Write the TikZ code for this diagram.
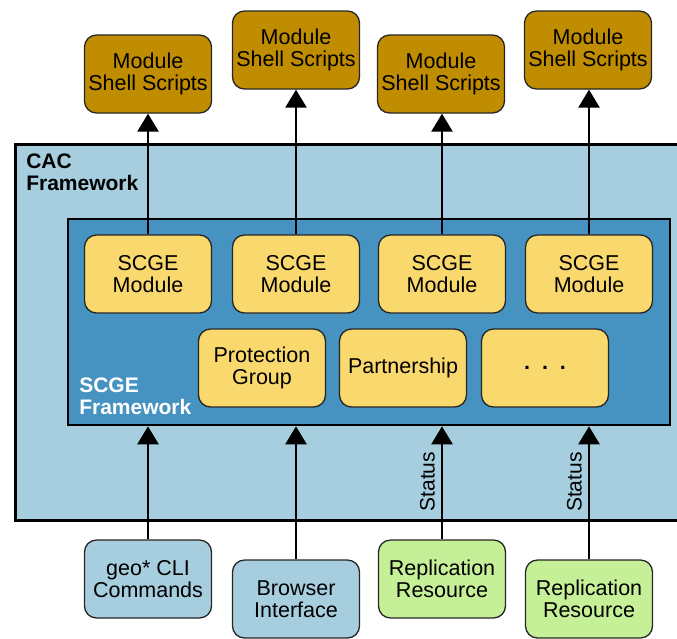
\documentclass[tikz,border=0pt]{standalone}
\usepackage{fontspec}
\setmainfont{Liberation Sans}
\usetikzlibrary{positioning, arrows.meta}
\definecolor{scriptgold}{RGB}{192,140,0}
\definecolor{modyellow}{RGB}{249,216,110}
\definecolor{cacblue}{RGB}{166,206,222}
\definecolor{scgeblue}{RGB}{70,146,192}
\definecolor{resgreen}{RGB}{198,240,152}
\tikzset{box/.style={draw=black!85,line width=1.3pt,rounded corners=12pt,minimum width=127,minimum height=78,align=center,inner sep=2pt,font=\fontsize{21.5}{21.5}\selectfont},
         script/.style={box,fill=scriptgold},
         module/.style={box,fill=modyellow},
         client/.style={box,fill=cacblue},
         resource/.style={box,fill=resgreen},
         frame/.style={draw,line width=2.6pt},
         framelabel/.style={anchor=north west,align=left,inner sep=0pt,font=\fontsize{21}{22}\selectfont\bfseries},
         status/.style={sloped,above,inner sep=6pt,font=\fontsize{21}{21}\selectfont},
        }

\begin{document}
\begin{tikzpicture}[x=1pt,y=-1pt,>={Triangle[width=21pt,length=18pt]},line width=2.6pt]
        \clip(0,0)rectangle(677,638);
        \node[frame,fill=cacblue,minimum width=700,minimum height=376,anchor=north west](cac)at(14,143){};
        \node[framelabel](caclabel)at(25,153){CAC\\Framework};
        \node[frame,fill=scgeblue,minimum width=602,minimum height=206](scge)at(369,322){};
        \node[framelabel,text=white](scgelabel)at(78,377){SCGE\\Framework};

        \node[script](ms1)at(148,74){Module\\Shell Scripts};
        \node[script](ms2)at(296,50){Module\\Shell Scripts};
        \node[script](ms3)at(441,74){Module\\Shell Scripts};
        \node[script](ms4)at(588,50){Module\\Shell Scripts};

        \node[module](m1)at(148,274){SCGE\\Module};
        \node[module](m2)at(296,274){SCGE\\Module};
        \node[module](m3)at(442,274){SCGE\\Module};
        \node[module](m4)at(589,274){SCGE\\Module};
        \node[module](pg)at(262,368){Protection\\Group};
        \node[module](pa)at(403,368){Partnership};
        \node[module](more)at(545,368){\textbf{.\ \ .\ \ .}};

        \draw[->](m1.north)--(m1.north|-ms1.south);
        \draw[->](m2.north)--(m2.north|-ms2.south);
        \draw[->](m3.north)--(m3.north|-ms3.south);
        \draw[->](m4.north)--(m4.north|-ms4.south);

        \node[client](geo)at(148,579){geo* CLI\\Commands};
        \node[client](web)at(296,599){Browser\\Interface};
        \node[resource](rr1)at(442,579){Replication\\Resource};
        \node[resource](rr2)at(589,599){Replication\\Resource};

        \draw[->](geo.north)--(geo|-scge.south);
        \draw[->](web.north)--(web|-scge.south);
        \draw[->](rr1.north)--node[status,pos=0.51]{Status}(rr1|-scge.south);
        \draw[->](rr2.north)--node[status,pos=0.58]{Status}(rr2|-scge.south);
    \end{tikzpicture}
\end{document}
